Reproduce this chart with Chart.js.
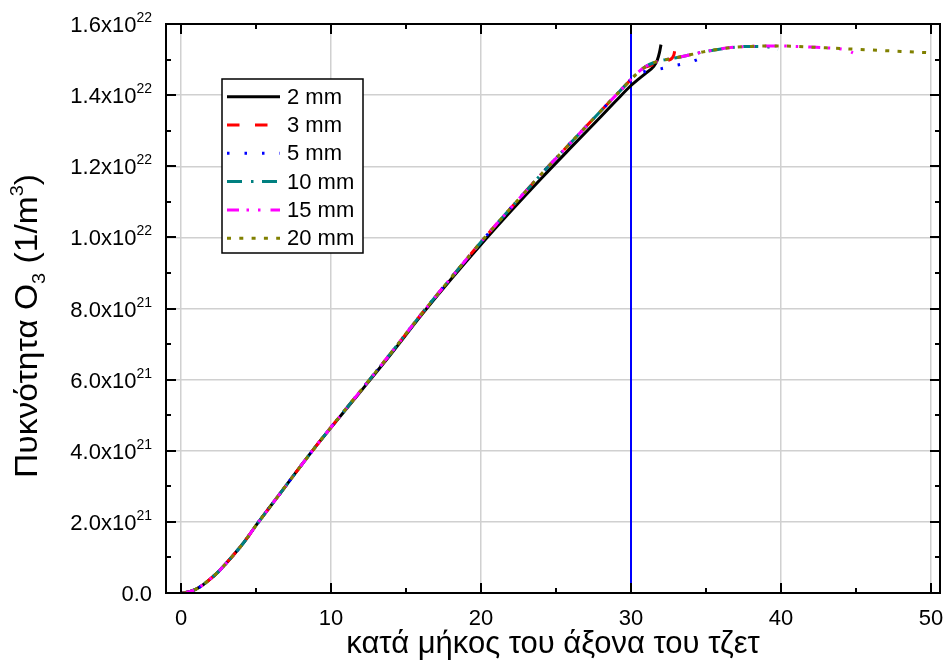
<!DOCTYPE html>
<html>
<head>
<meta charset="utf-8">
<script src="https://cdn.jsdelivr.net/npm/chart.js@4/dist/chart.umd.min.js"></script>
<style>
  body { margin: 0; background: #fff; }
  #wrap { width: 944px; height: 660px; position: relative; }
</style>
</head>
<body>
<div id="wrap"><canvas id="chart"></canvas></div>
<script>
// O3 density along the jet axis, y in units of 1e21 1/m^3
const xRise = [0.1, 0.5, 1, 1.5, 2, 2.5, 3, 3.5, 4, 4.5, 5, 6, 7, 8, 9, 10, 12, 14, 16, 18, 20, 22, 24, 26, 28, 29, 30];
const rise2mm = [0, 0.03, 0.11, 0.24, 0.41, 0.6, 0.83, 1.07, 1.32, 1.6, 1.9, 2.46, 3.02, 3.58, 4.13, 4.65, 5.68, 6.72, 7.8, 8.82, 9.8, 10.74, 11.65, 12.53, 13.4, 13.84, 14.27];
const riseJet = [0, 0.03, 0.11, 0.24, 0.41, 0.6, 0.83, 1.07, 1.32, 1.6, 1.9, 2.46, 3.02, 3.58, 4.13, 4.66, 5.7, 6.75, 7.83, 8.86, 9.87, 10.83, 11.77, 12.67, 13.56, 14.0, 14.44];

const tail2mmX = [30.5, 31, 31.5, 31.75, 31.9, 32.0];
const tail2mmY = [14.45, 14.62, 14.8, 14.98, 15.2, 15.42];
const tail3mmX = [30.5, 31, 31.5, 32, 32.5, 32.85, 33.0];
const tail3mmY = [14.65, 14.79, 14.86, 14.9, 14.98, 15.12, 15.5];
const tail5mmX = [30.5, 31, 31.75, 32.8, 33.9, 34.9];
const tail5mmY = [14.6, 14.67, 14.72, 14.82, 14.92, 15.08];
const tail10mmX = [30.5, 31, 31.5, 32, 33, 34, 35, 36, 37, 38, 39, 39.8];
const tail10mmY = [14.65, 14.81, 14.91, 14.97, 15.05, 15.14, 15.23, 15.3, 15.35, 15.37, 15.36, 15.28];
const tail15mmX = [30.5, 31, 31.5, 32, 33, 34, 35, 36, 37, 38, 39, 40, 41, 42, 43, 44, 44.5, 44.8];
const tail15mmY = [14.65, 14.81, 14.91, 14.97, 15.05, 15.14, 15.23, 15.3, 15.35, 15.37, 15.38, 15.38, 15.37, 15.35, 15.33, 15.3, 15.25, 15.19];
const tail20mmX = [30.5, 31, 31.5, 32, 33, 34, 35, 36, 37, 38, 39, 40, 41, 42, 43, 44, 45, 46, 47, 48, 49, 50];
const tail20mmY = [14.65, 14.81, 14.91, 14.97, 15.05, 15.14, 15.23, 15.3, 15.35, 15.37, 15.38, 15.38, 15.37, 15.35, 15.33, 15.31, 15.29, 15.27, 15.25, 15.23, 15.21, 15.19];

const seriesLabels = ['2 mm', '3 mm', '5 mm', '10 mm', '15 mm', '20 mm'];
const seriesColors = ['#000000', '#ff0000', '#0000ff', '#008080', '#ff00ff', '#808000'];
const seriesDashes = [[], [12.5, 15.5], [2.5, 15], [15, 9, 2.5, 8.5], [12, 7.5, 2.5, 9, 2.5, 10], [4, 8.3]];

const markerX = 30;
const markerY = [0, 16];

const xTicks = [0, 10, 20, 30, 40, 50];
const xMinor = [5, 15, 25, 35, 45];
const xTickLabels = ['0', '10', '20', '30', '40', '50'];
const yTicks = [0, 2, 4, 6, 8, 10, 12, 14, 16];
const yMinor = [1, 3, 5, 7, 9, 11, 13, 15];
const yTickMantissa = ['0.0', '2.0x10', '4.0x10', '6.0x10', '8.0x10', '1.0x10', '1.2x10', '1.4x10', '1.6x10'];
const yTickExp = ['', '21', '21', '21', '21', '22', '22', '22', '22'];

const FONT = '"Liberation Sans", Arial, sans-serif';

function pts(xs, ys) {
    return xs.map((x, i) => ({ x: x, y: ys[i] }));
}

const seriesData = [
    pts(xRise, rise2mm).concat(pts(tail2mmX, tail2mmY)),
    pts(xRise, riseJet).concat(pts(tail3mmX, tail3mmY)),
    pts(xRise, riseJet).concat(pts(tail5mmX, tail5mmY)),
    pts(xRise, riseJet).concat(pts(tail10mmX, tail10mmY)),
    pts(xRise, riseJet).concat(pts(tail15mmX, tail15mmY)),
    pts(xRise, riseJet).concat(pts(tail20mmX, tail20mmY))
];

const datasets = seriesLabels.map((label, i) => ({
    label: label,
    data: seriesData[i],
    borderColor: seriesColors[i],
    borderDash: seriesDashes[i],
    borderWidth: 3,
    pointRadius: 0,
    fill: false,
    cubicInterpolationMode: 'monotone',
    order: seriesLabels.length - i
}));

datasets.push({
    label: '',
    data: pts([markerX, markerX], markerY),
    borderColor: '#0000ff',
    borderWidth: 2,
    pointRadius: 0,
    fill: false,
    order: 10
});

function line(ctx, x1, y1, x2, y2) {
    ctx.beginPath();
    ctx.moveTo(x1, y1);
    ctx.lineTo(x2, y2);
    ctx.stroke();
}

// frame, inward ticks, labels and legend drawn on top of the plot
const decorPlugin = {
    id: 'decor',
    afterDraw(chart) {
        const { ctx, chartArea: a, scales: { x, y } } = chart;
        ctx.save();

        // ticks on all four sides, pointing in
        ctx.strokeStyle = '#000';
        ctx.lineWidth = 2;
        const xt = xTicks.map(v => [v, 10]).concat(xMinor.map(v => [v, 5]));
        xt.forEach(([v, len]) => {
            const px = Math.round(x.getPixelForValue(v));
            line(ctx, px, a.bottom, px, a.bottom - len);
            line(ctx, px, a.top, px, a.top + len);
        });
        const yt = yTicks.map(v => [v, 10]).concat(yMinor.map(v => [v, 5]));
        yt.forEach(([v, len]) => {
            const py = Math.round(y.getPixelForValue(v));
            line(ctx, a.left, py, a.left + len, py);
            line(ctx, a.right, py, a.right - len, py);
        });
        ctx.strokeRect(a.left, a.top, a.right - a.left, a.bottom - a.top);

        // tick labels
        ctx.fillStyle = '#000';
        ctx.textBaseline = 'alphabetic';
        ctx.font = '22px ' + FONT;
        ctx.textAlign = 'center';
        xTicks.forEach((v, i) => {
            ctx.fillText(xTickLabels[i], x.getPixelForValue(v), 625);
        });
        ctx.textAlign = 'left';
        const labelRight = 152;
        yTicks.forEach((v, i) => {
            const py = y.getPixelForValue(v);
            ctx.font = '22px ' + FONT;
            const w1 = ctx.measureText(yTickMantissa[i]).width;
            ctx.font = '14px ' + FONT;
            const w2 = yTickExp[i] ? ctx.measureText(yTickExp[i]).width : 0;
            const start = labelRight - w1 - w2;
            ctx.font = '22px ' + FONT;
            ctx.fillText(yTickMantissa[i], start, py + 8);
            if (yTickExp[i]) {
                ctx.font = '14px ' + FONT;
                ctx.fillText(yTickExp[i], start + w1, py - 2);
            }
        });

        // x axis title
        ctx.font = '31px ' + FONT;
        ctx.textAlign = 'center';
        ctx.fillText('κατά μήκος του άξονα του τζετ', (a.left + a.right) / 2, 653);

        // y axis title with sub/superscript
        ctx.save();
        ctx.translate(37, 326);
        ctx.rotate(-Math.PI / 2);
        ctx.scale(1.05, 1);
        ctx.textAlign = 'left';
        const parts = [
            ['Πυκνότητα O', 32, 0],
            ['3', 19, 8],
            [' (1/m', 32, 0],
            ['3', 19, -14],
            [')', 32, 0]
        ];
        let total = 0;
        parts.forEach(p => { ctx.font = p[1] + 'px ' + FONT; total += ctx.measureText(p[0]).width; });
        let cx = -total / 2;
        parts.forEach(p => {
            ctx.font = p[1] + 'px ' + FONT;
            ctx.fillText(p[0], cx, p[2]);
            cx += ctx.measureText(p[0]).width;
        });
        ctx.restore();

        // legend box
        const lx = 222, ly = 79, lw = 141, lh = 174;
        ctx.fillStyle = '#fff';
        ctx.fillRect(lx, ly, lw, lh);
        ctx.lineWidth = 1.5;
        ctx.strokeStyle = '#000';
        ctx.strokeRect(lx, ly, lw, lh);
        ctx.font = '22px ' + FONT;
        ctx.textBaseline = 'middle';
        ctx.textAlign = 'left';
        seriesLabels.forEach((label, i) => {
            const ry = 96.7 + i * 28.3;
            ctx.strokeStyle = seriesColors[i];
            ctx.lineWidth = 3;
            ctx.setLineDash(seriesDashes[i]);
            line(ctx, 227, ry, 280, ry);
            ctx.setLineDash([]);
            ctx.fillStyle = '#000';
            ctx.fillText(label, 287, ry + 1);
        });

        ctx.restore();
    }
};

new Chart(document.getElementById('chart'), {
    type: 'line',
    data: { datasets: datasets },
    options: {
        responsive: true,
        maintainAspectRatio: false,
        animation: false,
        layout: { padding: { left: 166, top: 24, right: 4, bottom: 67 } },
        plugins: { legend: { display: false }, tooltip: { enabled: false } },
        scales: {
            x: {
                type: 'linear',
                min: -1,
                max: 50.6,
                afterBuildTicks: s => { s.ticks = xTicks.map(v => ({ value: v })); },
                afterFit: s => { s.height = 0; },
                ticks: { display: false },
                border: { display: false },
                grid: { color: '#d0d0d0', lineWidth: 1.5, drawTicks: false }
            },
            y: {
                type: 'linear',
                min: 0,
                max: 16,
                afterBuildTicks: s => { s.ticks = yTicks.map(v => ({ value: v })); },
                afterFit: s => { s.width = 0; },
                ticks: { display: false },
                border: { display: false },
                grid: { color: '#d0d0d0', lineWidth: 1.5, drawTicks: false }
            }
        }
    },
    plugins: [decorPlugin]
});
</script>
</body>
</html>
